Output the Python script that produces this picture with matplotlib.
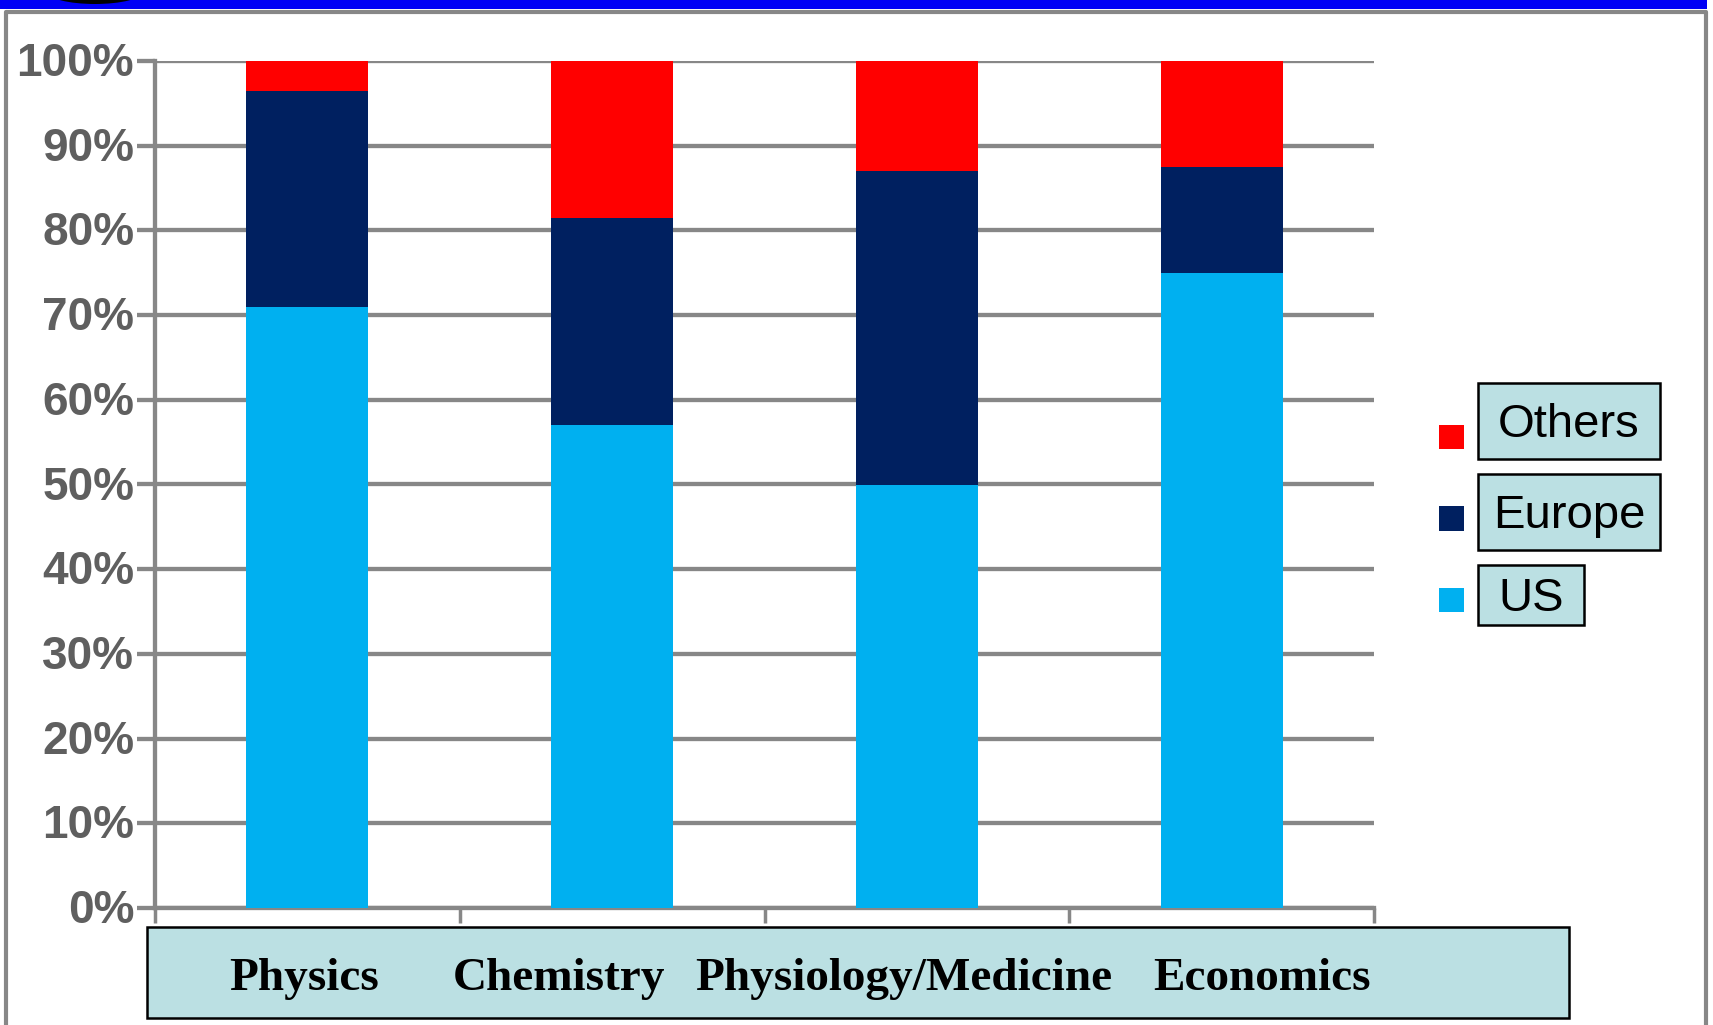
import matplotlib
matplotlib.use('Agg')
import matplotlib.pyplot as plt
from matplotlib.patches import Rectangle, Ellipse
import numpy as np

# share of prizes by region (percent of each field)
fields = ['Physics', 'Chemistry', 'Physiology/Medicine', 'Economics']
us = [71, 57, 50, 75]
europe = [25.5, 24.5, 37, 12.5]
others = [3.5, 18.5, 13, 12.5]
yticks = [0, 10, 20, 30, 40, 50, 60, 70, 80, 90, 100]
legend_names = ['Others', 'Europe', 'US']

W, H = 1713, 1025
GRAY = '#878787'
c_us, c_eu, c_ot = '#00B0F0', '#002060', '#FF0000'


def rect(x0, y0, x1, y1, **kw):
    # rectangle from pixel coords (top-left origin) to figure coords
    return Rectangle((x0 / W, 1 - y1 / H), (x1 - x0) / W, (y1 - y0) / H,
                     transform=fig.transFigure, **kw)


fig = plt.figure(figsize=(W / 100, H / 100), dpi=100)
fig.patch.set_facecolor('white')

# slide decorations: blue rule at the top and gray frame
fig.patches.append(rect(0, 0, 1707, 9, facecolor='#0000F5', edgecolor='none'))
fig.patches.append(Ellipse((95 / W, 1 + 8 / H), 95 / W, 24 / H, transform=fig.transFigure,
                           facecolor='black', edgecolor='none'))
fig.add_artist(plt.Line2D([6 / W, 6 / W, 1706 / W, 1706 / W],
                          [0, 1 - 12 / H, 1 - 12 / H, 0],
                          transform=fig.transFigure, color=GRAY, lw=3))

ax = fig.add_axes([155 / W, 1 - 908 / H, 1219 / W, 847 / H])
x = np.arange(len(fields))
bw = 0.4
ax.bar(x, us, bw, color=c_us, zorder=3)
ax.bar(x, europe, bw, bottom=us, color=c_eu, zorder=3)
ax.bar(x, others, bw, bottom=np.array(us) + np.array(europe), color=c_ot, zorder=3)

ax.set_xlim(-0.5, len(fields) - 0.5)
ax.set_ylim(0, 100)
ax.set_yticks(yticks)
ax.set_yticklabels([f'{v}%' for v in yticks], fontfamily='Liberation Sans',
                   fontweight='bold', fontsize=33, color='#5F5F5F', va='top')
for lab in ax.get_yticklabels():
    lab.set_y(lab.get_position()[1])
ax.tick_params(axis='y', direction='out', length=13, width=3.1, color=GRAY, pad=2)
ax.yaxis.grid(True, color=GRAY, lw=3.1, zorder=1)
ax.set_axisbelow(True)
# nudge y labels a little below their gridlines like the original
from matplotlib.transforms import ScaledTranslation
for lab in ax.get_yticklabels():
    lab.set_verticalalignment('center')
    lab.set_transform(lab.get_transform() + ScaledTranslation(0, -0.03, fig.dpi_scale_trans))

ax.set_xticks(np.arange(-0.5, len(fields)))
ax.set_xticklabels([])
ax.tick_params(axis='x', direction='out', length=11, width=2.5, color=GRAY)

for s in ['top', 'right']:
    ax.spines[s].set_visible(False)
for s in ['left', 'bottom']:
    ax.spines[s].set_color(GRAY)
    ax.spines[s].set_linewidth(3.1)

# category label box
fig.patches.append(rect(147, 927, 1569, 1018, facecolor='#BBE0E3', edgecolor='black', lw=1.8))
label_x = [304, 559, 904, 1262]
for name, lx in zip(fields, label_x):
    fig.text(lx / W, 1 - 979 / H, name, ha='center', va='center', fontsize=34,
             fontfamily='Liberation Serif', fontweight='bold', color='black')

# legend drawn as boxed labels
leg_colors = [c_ot, c_eu, c_us]
sq_y = [(425, 449), (506, 531), (588, 612)]
box = [(1478, 383, 1660, 459), (1478, 474, 1660, 550), (1478, 565, 1584, 625)]
for name, col, (sy0, sy1), (bx0, by0, bx1, by1) in zip(legend_names, leg_colors, sq_y, box):
    fig.patches.append(rect(1439, sy0, 1464, sy1, facecolor=col, edgecolor='none'))
    fig.patches.append(rect(bx0, by0, bx1, by1, facecolor='#BBE0E3', edgecolor='black', lw=1.8))
    fig.text((bx0 + bx1) / 2 / W, 1 - ((by0 + by1) / 2 + 4) / H, name, ha='center', va='center',
             fontsize=34, fontfamily='Liberation Sans', color='black')

fig.savefig('out.png', dpi=100)
